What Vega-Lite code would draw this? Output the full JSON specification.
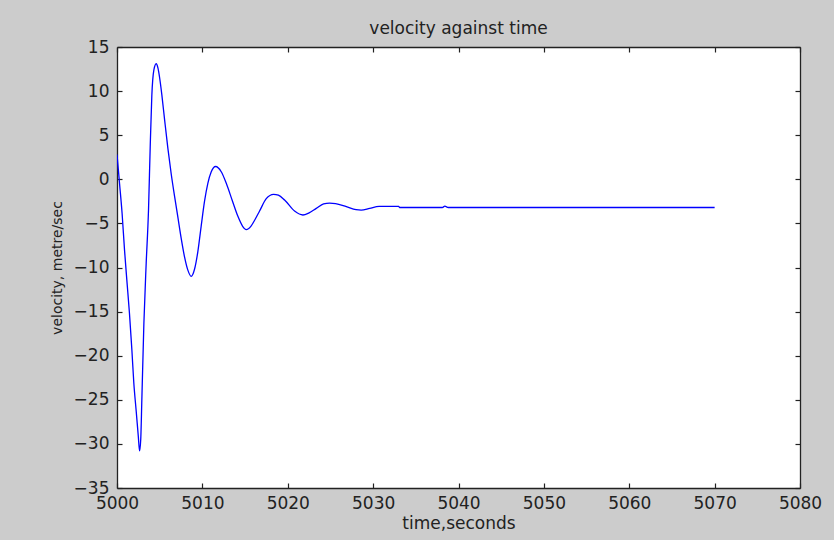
{
  "$schema": "https://vega.github.io/schema/vega-lite/v6.json",
  "width": 683,
  "height": 441,
  "autosize": {"type": "none"},
  "padding": {"left": 117, "top": 47, "right": 34, "bottom": 52},
  "background": "#cccccc",
  "title": {"text": "velocity against time", "fontSize": 17, "font": "DejaVu Sans", "fontWeight": "normal", "color": "#222222", "baseline": "alphabetic", "offset": 13, "dy": 26, "anchor": "middle"},
  "config": {
    "view": {"stroke": null, "fill": "white"},
    "axis": {
      "domainColor": "#222222", "domainWidth": 1.3,
      "tickColor": "#222222", "tickWidth": 1.2, "tickSize": -5,
      "grid": false,
      "labelFont": "DejaVu Sans", "labelFontSize": 17, "labelColor": "#222222",
      "titleFont": "DejaVu Sans", "titleFontWeight": "normal", "titleColor": "#222222",
      "labelOverlap": false, "labelFlush": false, "labelBound": false
    }
  },
  "data": {"values": [
    {"t": 5000, "v": 2.8}, {"t": 5000.15, "v": 1.2}, {"t": 5000.3, "v": -0.5}, {"t": 5000.6, "v": -3.9},
    {"t": 5000.88, "v": -8.0}, {"t": 5001.15, "v": -11.4}, {"t": 5001.46, "v": -15.2}, {"t": 5001.74, "v": -19.3},
    {"t": 5001.97, "v": -23.1}, {"t": 5002.25, "v": -26.3}, {"t": 5002.5, "v": -29.2}, {"t": 5002.64, "v": -30.8},
    {"t": 5002.78, "v": -29.5}, {"t": 5002.91, "v": -25.0}, {"t": 5003.15, "v": -16.3}, {"t": 5003.42, "v": -9.5},
    {"t": 5003.69, "v": -3.5}, {"t": 5003.89, "v": 3.7}, {"t": 5004.08, "v": 9.5}, {"t": 5004.32, "v": 12.4},
    {"t": 5004.59, "v": 13.1}, {"t": 5004.8, "v": 12.6}, {"t": 5004.98, "v": 11.6}, {"t": 5005.25, "v": 9.6},
    {"t": 5005.57, "v": 6.8}, {"t": 5005.96, "v": 3.5}, {"t": 5006.35, "v": 0.6}, {"t": 5006.74, "v": -1.9},
    {"t": 5007.13, "v": -4.3}, {"t": 5007.52, "v": -6.7}, {"t": 5007.91, "v": -8.8}, {"t": 5008.3, "v": -10.3},
    {"t": 5008.69, "v": -11.0}, {"t": 5009.08, "v": -10.2}, {"t": 5009.47, "v": -8.2}, {"t": 5009.86, "v": -5.3},
    {"t": 5010.25, "v": -2.5}, {"t": 5010.64, "v": -0.45}, {"t": 5011.04, "v": 0.86}, {"t": 5011.54, "v": 1.45},
    {"t": 5012.21, "v": 0.86}, {"t": 5012.8, "v": -0.45}, {"t": 5013.5, "v": -2.4}, {"t": 5014.16, "v": -4.2},
    {"t": 5014.7, "v": -5.3}, {"t": 5015.14, "v": -5.7}, {"t": 5015.7, "v": -5.3}, {"t": 5016.2, "v": -4.5},
    {"t": 5016.7, "v": -3.6}, {"t": 5017.48, "v": -2.2}, {"t": 5018.34, "v": -1.7}, {"t": 5018.9, "v": -1.8},
    {"t": 5019.63, "v": -2.35}, {"t": 5020.8, "v": -3.6}, {"t": 5021.78, "v": -4.05}, {"t": 5022.5, "v": -3.8},
    {"t": 5023.34, "v": -3.3}, {"t": 5024.2, "v": -2.8}, {"t": 5024.9, "v": -2.7}, {"t": 5025.6, "v": -2.75},
    {"t": 5026.86, "v": -3.1}, {"t": 5028.0, "v": -3.45}, {"t": 5028.6, "v": -3.5}, {"t": 5029.6, "v": -3.3},
    {"t": 5030.7, "v": -3.08}, {"t": 5033.0, "v": -3.08}, {"t": 5033.1, "v": -3.2}, {"t": 5038.1, "v": -3.2},
    {"t": 5038.4, "v": -3.05}, {"t": 5038.8, "v": -3.2}, {"t": 5070, "v": -3.2}
  ]},
  "layer": [
    {
      "mark": {"type": "line", "color": "#0000ff", "strokeWidth": 1.3, "interpolate": "monotone", "clip": true},
      "encoding": {
        "x": {"field": "t", "type": "quantitative",
          "scale": {"domain": [5000, 5080], "nice": false, "zero": false},
          "axis": {"orient": "bottom", "title": "time,seconds", "titleFontSize": 17, "titlePadding": 4,
            "values": [5000, 5010, 5020, 5030, 5040, 5050, 5060, 5070, 5080], "format": "d", "labelPadding": 12}},
        "y": {"field": "v", "type": "quantitative",
          "scale": {"domain": [-35, 15], "nice": false, "zero": false},
          "axis": {"orient": "left", "title": "velocity, metre/sec", "titleFontSize": 14, "titlePadding": 9,
            "values": [-35, -30, -25, -20, -15, -10, -5, 0, 5, 10, 15], "format": "d", "labelPadding": 13}}
      }
    },
    {
      "mark": {"type": "line", "strokeOpacity": 0},
      "encoding": {
        "x": {"field": "t", "type": "quantitative",
          "scale": {"domain": [5000, 5080], "nice": false, "zero": false},
          "axis": {"orient": "top", "title": null, "labels": false, "minExtent": 0, "maxExtent": 0,
            "values": [5000, 5010, 5020, 5030, 5040, 5050, 5060, 5070, 5080]}},
        "y": {"field": "v", "type": "quantitative",
          "scale": {"domain": [-35, 15], "nice": false, "zero": false},
          "axis": {"orient": "right", "title": null, "labels": false, "minExtent": 0, "maxExtent": 0,
            "values": [-35, -30, -25, -20, -15, -10, -5, 0, 5, 10, 15]}}
      }
    }
  ],
  "resolve": {"axis": {"x": "independent", "y": "independent"}}
}
